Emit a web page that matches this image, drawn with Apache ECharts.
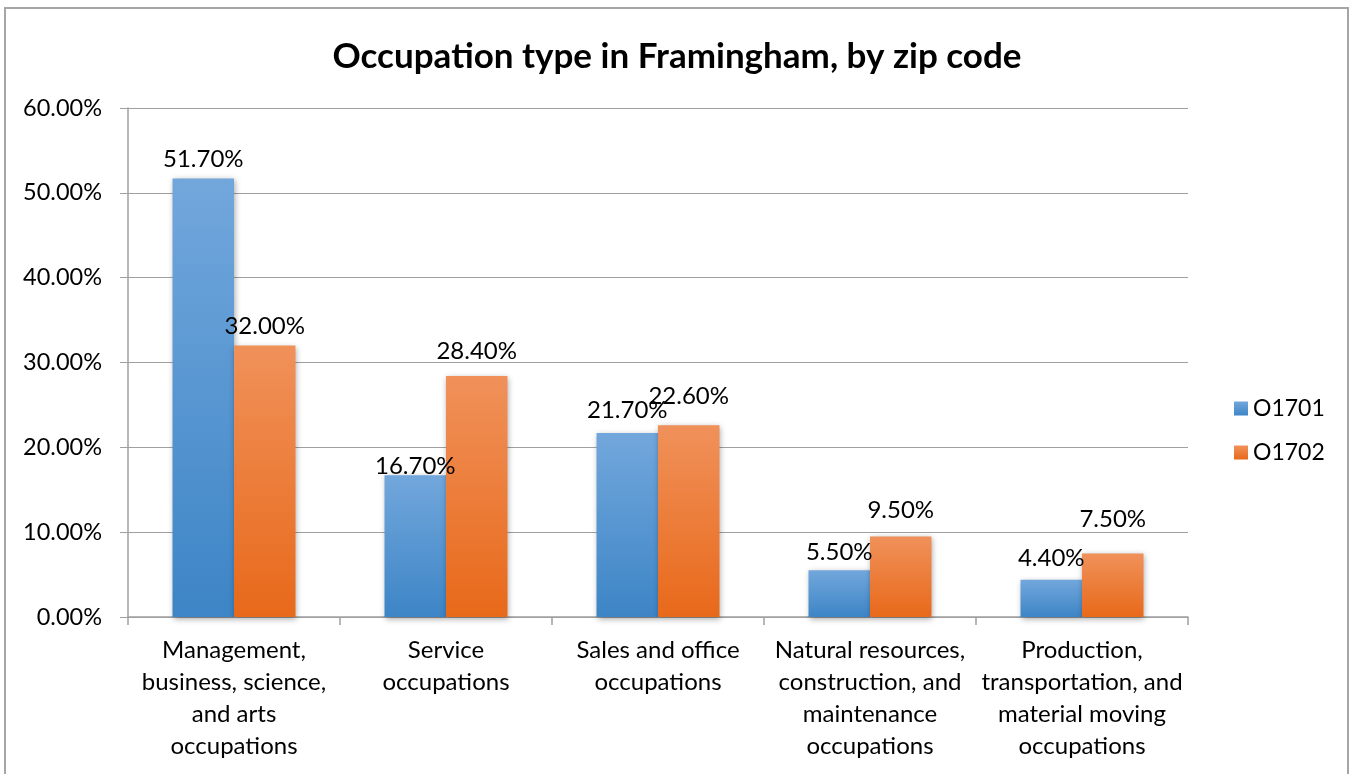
<!DOCTYPE html>
<html>
<head>
<meta charset="utf-8">
<script src="https://cdn.jsdelivr.net/npm/echarts@6/dist/echarts.min.js"></script>
<style>
  html, body { margin: 0; padding: 0; background: #fff; }
  #chart { width: 1354px; height: 774px; }
</style>
</head>
<body>
<div id="chart"></div>
<script>
// Occupation shares by zip code, Framingham
const categories = [
  'Management,\nbusiness, science,\nand arts\noccupations',
  'Service\noccupations',
  'Sales and office\noccupations',
  'Natural resources,\nconstruction, and\nmaintenance\noccupations',
  'Production,\ntransportation, and\nmaterial moving\noccupations'
];
const zip01701 = [51.7, 16.7, 21.7, 5.5, 4.4];
const zip01702 = [32.0, 28.4, 22.6, 9.5, 7.5];
const seriesNames = ['O1701', 'O1702'];

// extra lift (px) of each hand-placed value label above its bar
const labelLift01701 = [4, -6, 8, 3, 6];
const labelLift01702 = [4, 10, 14, 11, 19];

const FONT = 'Lato, "Open Sans", sans-serif';

function grad(top, bottom) {
  return new echarts.graphic.LinearGradient(0, 0, 0, 1, [
    { offset: 0, color: top },
    { offset: 1, color: bottom }
  ]);
}

function withLabelLift(values, lifts) {
  return values.map((v, i) => ({ value: v, label: { offset: [0, -lifts[i]] } }));
}

const valueLabel = {
  show: true,
  position: 'top',
  distance: 3,
  fontFamily: FONT,
  fontSize: 24,
  color: '#000',
  formatter: p => p.value.toFixed(2) + '%'
};

const barShadow = {
  shadowColor: 'rgba(0,0,0,0.35)',
  shadowBlur: 6,
  shadowOffsetX: 1,
  shadowOffsetY: 2
};

const chart = echarts.init(document.getElementById('chart'));
chart.setOption({
  animation: false,
  backgroundColor: '#ffffff',
  graphic: [{
    type: 'rect',
    shape: { x: 5, y: 8, width: 1343, height: 780 },
    style: { fill: 'none', stroke: '#a6a6a6', lineWidth: 2 },
    silent: true,
    z: -1
  }],
  title: {
    text: 'Occupation type in Framingham, by zip code',
    left: 'center',
    top: 34,
    textStyle: { fontFamily: FONT, fontSize: 35, fontWeight: 'bold', color: '#000' }
  },
  legend: {
    orient: 'vertical',
    left: 1229,
    top: 392,
    itemWidth: 14,
    itemHeight: 14,
    itemGap: 21,
    icon: 'rect',
    textStyle: { fontFamily: FONT, fontSize: 23, color: '#000' },
    data: seriesNames
  },
  grid: { left: 128, right: 166, top: 108, bottom: 157, containLabel: false },
  xAxis: {
    type: 'category',
    data: categories,
    axisLine: { lineStyle: { color: '#a0a0a0', width: 1.5 } },
    axisTick: { show: true, length: 8, lineStyle: { color: '#a0a0a0', width: 1.5 } },
    axisLabel: {
      interval: 0,
      margin: 17,
      fontFamily: FONT,
      fontSize: 24,
      lineHeight: 32,
      color: '#000'
    }
  },
  yAxis: {
    type: 'value',
    min: 0,
    max: 60,
    interval: 10,
    axisLine: { show: true, lineStyle: { color: '#a0a0a0', width: 1.5 } },
    axisTick: { show: true, length: 8, lineStyle: { color: '#a0a0a0' } },
    splitLine: { lineStyle: { color: '#a0a0a0', width: 1 } },
    axisLabel: {
      margin: 26,
      fontFamily: FONT,
      fontSize: 23.5,
      color: '#000',
      formatter: v => v.toFixed(2) + '%'
    }
  },
  series: [
    {
      name: seriesNames[0],
      type: 'bar',
      data: withLabelLift(zip01701, labelLift01701),
      barGap: '0%',
      barCategoryGap: '42%',
      itemStyle: Object.assign({ color: grad('#72a7dc', '#3d85c6') }, barShadow),
      label: valueLabel
    },
    {
      name: seriesNames[1],
      type: 'bar',
      data: withLabelLift(zip01702, labelLift01702),
      barGap: '0%',
      barCategoryGap: '42%',
      itemStyle: Object.assign({ color: grad('#f0915a', '#e8691a') }, barShadow),
      label: valueLabel
    }
  ]
});
</script>
</body>
</html>
